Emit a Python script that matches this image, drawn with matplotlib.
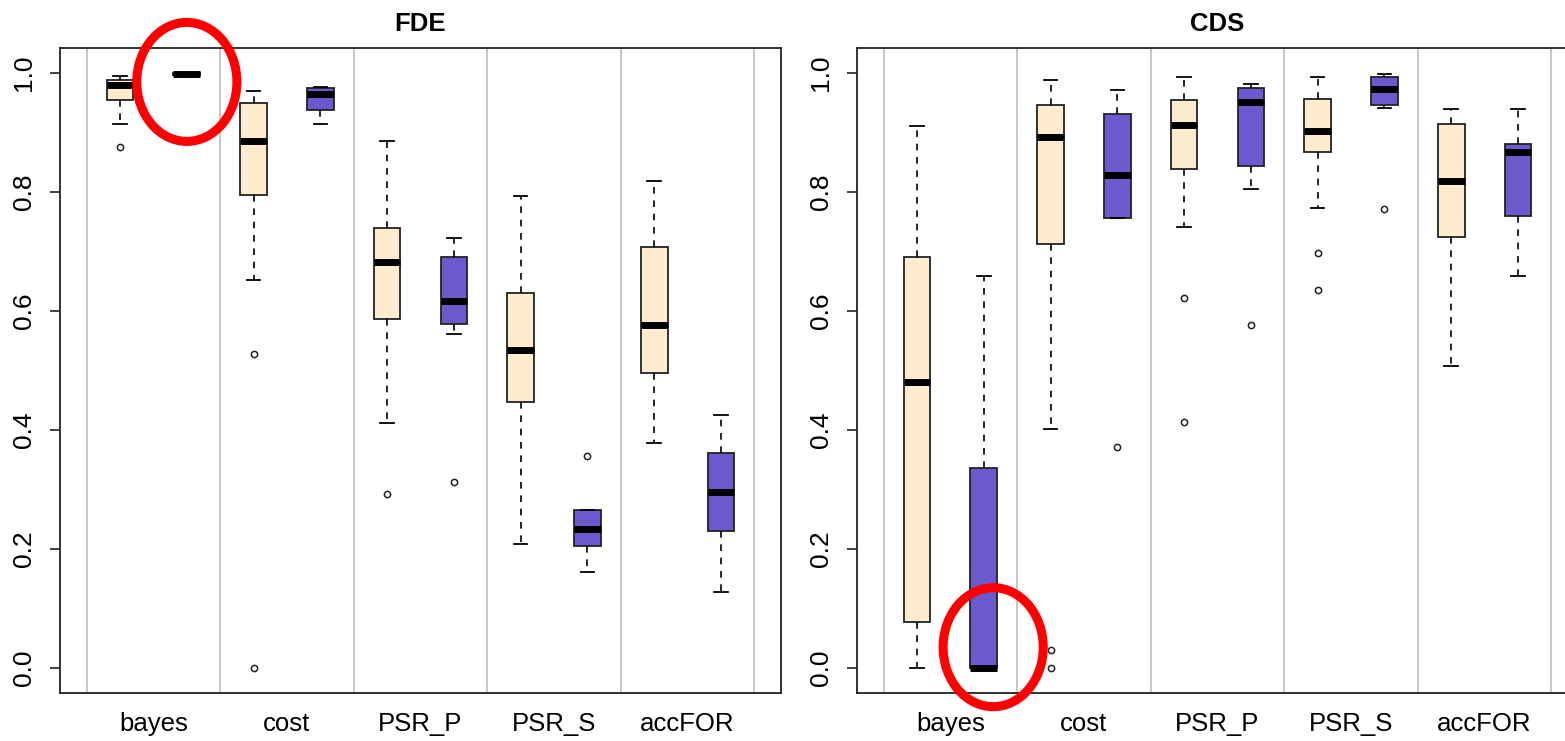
import matplotlib.pyplot as plt
from matplotlib.patches import Ellipse

plt.rcParams['font.family'] = ['Liberation Sans', 'DejaVu Sans']

# groups, each with two boxes (beige, purple)
groups = ["bayes", "cost", "PSR_P", "PSR_S", "accFOR"]
colors = ["#FFEBCD", "#6A5ACD"] * 5

# FDE panel: five-number summaries per box, left to right
fde_lo = [0.914, 0.993, 0.652, 0.914, 0.411, 0.562, 0.209, 0.161, 0.378, 0.128]
fde_q1 = [0.954, 0.996, 0.795, 0.938, 0.586, 0.578, 0.447, 0.205, 0.496, 0.230]
fde_med = [0.980, 0.999, 0.885, 0.964, 0.683, 0.616, 0.534, 0.233, 0.577, 0.295]
fde_q3 = [0.988, 1.000, 0.949, 0.974, 0.740, 0.690, 0.631, 0.265, 0.707, 0.362]
fde_hi = [0.995, 1.000, 0.970, 0.977, 0.886, 0.722, 0.793, 0.265, 0.818, 0.425]
fde_out = [[0.875], [], [0.527, 0.0], [], [0.292], [0.312], [], [0.356], [], []]

# CDS panel
cds_lo = [0.0, 0.0, 0.402, 0.757, 0.742, 0.805, 0.773, 0.942, 0.508, 0.659]
cds_q1 = [0.077, 0.0, 0.712, 0.757, 0.838, 0.843, 0.868, 0.946, 0.725, 0.760]
cds_med = [0.480, 0.0, 0.893, 0.828, 0.913, 0.952, 0.903, 0.973, 0.818, 0.867]
cds_q3 = [0.690, 0.336, 0.946, 0.931, 0.955, 0.974, 0.957, 0.994, 0.914, 0.880]
cds_hi = [0.911, 0.659, 0.989, 0.971, 0.994, 0.982, 0.994, 0.999, 0.939, 0.939]
cds_out = [[], [], [0.031, 0.0], [0.371], [0.622, 0.413], [0.577],
           [0.697, 0.636], [0.772], [], []]


def draw_panel(ax, title, lo, q1, med, q3, hi, out):
    stats = []
    for i in range(len(med)):
        stats.append(dict(whislo=lo[i], q1=q1[i], med=med[i], q3=q3[i],
                          whishi=hi[i], fliers=out[i]))
    pos = list(range(1, len(med) + 1))
    bp = ax.bxp(stats, positions=pos, widths=0.4, patch_artist=True,
                showfliers=True, capwidths=0.2,
                boxprops=dict(edgecolor="#222222", linewidth=1.3),
                medianprops=dict(color="black", linewidth=5, solid_capstyle="butt"),
                whiskerprops=dict(color="black", linewidth=1.2, linestyle=(0, (4, 4))),
                capprops=dict(color="black", linewidth=1.3),
                flierprops=dict(marker="o", markersize=4.5, markerfacecolor="none",
                                markeredgecolor="#222222", markeredgewidth=1.1))
    for patch, c in zip(bp["boxes"], colors):
        patch.set_facecolor(c)
    for x in [0.5, 2.5, 4.5, 6.5, 8.5, 10.5]:
        ax.axvline(x, color="#BEBEBE", lw=1.2, zorder=0)
    ax.set_xlim(0.1, 10.9)
    ax.set_ylim(-0.042, 1.042)
    ax.set_xticks([1.5, 3.5, 5.5, 7.5, 9.5])
    ax.set_xticklabels(groups)
    ax.tick_params(axis="x", length=0, pad=14, labelsize=18.5)
    ax.set_yticks([0.0, 0.2, 0.4, 0.6, 0.8, 1.0])
    ax.set_yticklabels(["0.0", "0.2", "0.4", "0.6", "0.8", "1.0"])
    ax.tick_params(axis="y", length=7, width=1.2, pad=10, labelsize=19,
                   labelrotation=90, color="#222222")
    for lbl in ax.get_yticklabels():
        lbl.set_va("center")
    for s in ax.spines.values():
        s.set_linewidth(1.3)
        s.set_color("#222222")
    ax.set_title(title, fontsize=18.5, fontweight="bold", pad=12)


fig = plt.figure(figsize=(15.65, 7.41), dpi=100)
ax1 = fig.add_axes([60 / 1565, 48 / 741, 721 / 1565, 645 / 741])
ax2 = fig.add_axes([857 / 1565, 48 / 741, 721 / 1565, 645 / 741])

draw_panel(ax1, "FDE", fde_lo, fde_q1, fde_med, fde_q3, fde_hi, fde_out)
draw_panel(ax2, "CDS", cds_lo, cds_q1, cds_med, cds_q3, cds_hi, cds_out)

# red highlight rings
ax1.add_patch(Ellipse((2.0, 0.985), 1.5, 0.2, fill=False, edgecolor="red",
                      linewidth=6.5, clip_on=False, zorder=5))
ax2.add_patch(Ellipse((2.14, 0.035), 1.5, 0.2, fill=False, edgecolor="red",
                      linewidth=6.5, clip_on=False, zorder=5))

fig.savefig("out.png", dpi=100)
